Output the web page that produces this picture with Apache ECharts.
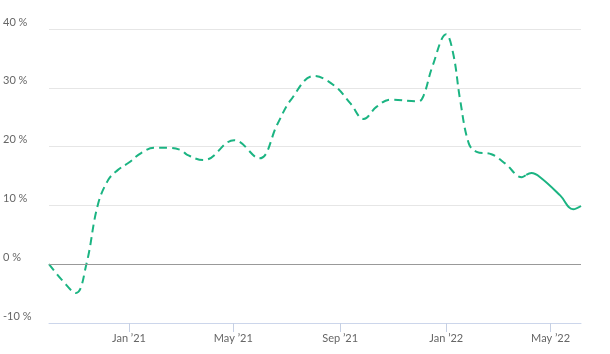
<!DOCTYPE html>
<html>
<head>
<meta charset="utf-8">
<script src="https://cdn.jsdelivr.net/npm/echarts@6/dist/echarts.min.js"></script>
<style>
  html, body { margin: 0; padding: 0; background: #fff; }
  #chart { width: 610px; height: 354px; }
</style>
</head>
<body>
<div id="chart"></div>
<script>
// dashed part (estimate)
const estDates = ['2020-10-01', '2020-10-16', '2020-11-01', '2020-11-13', '2020-11-26', '2020-12-08', '2020-12-19',
  '2021-01-01', '2021-01-15', '2021-01-30', '2021-02-14', '2021-03-02', '2021-03-09', '2021-03-28', '2021-05-02',
  '2021-05-31', '2021-06-21', '2021-07-06', '2021-08-02', '2021-08-25', '2021-09-13', '2021-09-28', '2021-10-13',
  '2021-10-29', '2021-11-30', '2021-12-06', '2021-12-16', '2022-01-01', '2022-01-09', '2022-01-17', '2022-01-27',
  '2022-02-05', '2022-02-22', '2022-03-10', '2022-03-29', '2022-04-03']
const estValues = [0, -2.7, -4.9, 0, 10, 14.3, 16,
  17.3, 18.9, 19.8, 19.8, 19.4, 18.6, 17.7, 21.1,
  18, 23.9, 27.9, 32, 30.4, 27.3, 24.7, 26.8,
  28, 27.7, 28.7, 33.6, 39.1, 35.8, 27.9, 20.5,
  19.1, 18.7, 17.1, 14.8, 15.2]
// solid part
const actDates = ['2022-04-03', '2022-04-09', '2022-04-19', '2022-05-12', '2022-05-27', '2022-06-05']
const actValues = [15.2, 15.5, 14.8, 11.7, 9.35, 9.9]
const tickDates = ['2021-01-01', '2021-05-01', '2021-09-01', '2022-01-01', '2022-05-01']
const monthNames = ['Jan', 'Feb', 'Mar', 'Apr', 'May', 'Jun', 'Jul', 'Aug', 'Sep', 'Oct', 'Nov', 'Dec']

const chart = echarts.init(document.getElementById('chart'))
const green = '#1bb482'
const ts = d => Date.parse(d + 'T00:00:00Z')
const tickValues = tickDates.map(ts)

const option = {
  animation: false,
  textStyle: { fontFamily: 'Lato, sans-serif' },
  grid: { left: 47, right: 29, top: 29, bottom: 31 },
  xAxis: {
    type: 'value',
    min: ts(estDates[0]),
    max: ts(actDates[actDates.length - 1]),
    axisLine: { onZero: false, lineStyle: { color: '#ccd6eb' } },
    axisTick: { show: true, length: 9, lineStyle: { color: '#c6d0e4' }, customValues: tickValues },
    axisLabel: {
      color: '#666',
      fontSize: 11,
      margin: 10,
      customValues: tickValues,
      formatter: v => {
        const d = new Date(v)
        return monthNames[d.getUTCMonth()] + ' \u2019' + String(d.getUTCFullYear()).slice(2)
      }
    },
    splitLine: { show: false }
  },
  yAxis: {
    type: 'value',
    min: -10,
    max: 40,
    interval: 10,
    axisLine: { show: false },
    axisTick: { show: false },
    axisLabel: {
      color: '#666',
      fontSize: 11,
      align: 'left',
      verticalAlign: 'bottom',
      margin: 46,
      lineHeight: 14,
      formatter: v => v + ' %'
    },
    splitLine: { lineStyle: { color: '#e6e6e6' } }
  },
  series: [
    {
      type: 'line',
      data: estDates.map((d, i) => [ts(d), estValues[i]]),
      smooth: 0.4,
      showSymbol: false,
      lineStyle: { color: green, width: 2, type: [8, 5] },
      markLine: {
        silent: true,
        symbol: 'none',
        label: { show: false },
        lineStyle: { color: '#999', width: 1, type: 'solid' },
        data: [{ yAxis: 0 }]
      }
    },
    {
      type: 'line',
      data: actDates.map((d, i) => [ts(d), actValues[i]]),
      smooth: 0.4,
      showSymbol: false,
      lineStyle: { color: green, width: 2 }
    }
  ]
}
chart.setOption(option)
</script>
</body>
</html>
